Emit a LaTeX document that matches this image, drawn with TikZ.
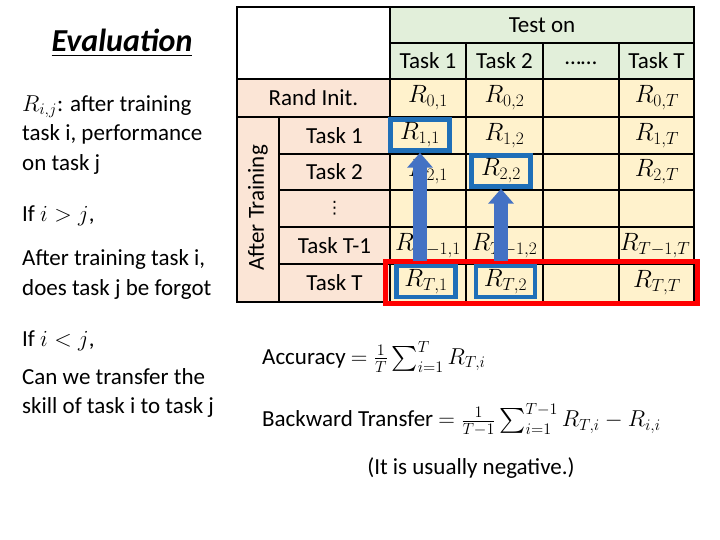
\RequirePackage{fix-cm}
\documentclass[tikz,border=0pt]{standalone}
\usepackage[no-math]{fontspec}
\setmainfont{Carlito}
\newfontfamily\dotsfont{DejaVu Sans}
\usepackage{amsmath}
\usetikzlibrary{arrows.meta, positioning}

\definecolor{headgreen}{HTML}{E2EFDA}
\definecolor{rowpeach}{HTML}{FBE5D6}
\definecolor{cellcream}{HTML}{FFF2CC}
\definecolor{boxblue}{HTML}{1F6FB8}
\definecolor{arrowblue}{HTML}{4472C4}
\definecolor{markred}{HTML}{FF0000}

\tikzset{
    grid/.style={draw=black, line width=1.6pt},
    res/.style={font=\fontsize{25}{28}\selectfont, inner sep=0pt},
    pick/.style={res, draw=boxblue, fill=cellcream, line width=4.5pt, minimum width=59pt, minimum height=31pt},
    lift/.style={draw=arrowblue, line width=14pt, -{Triangle[width=25pt, length=15pt]}},
    side/.style={anchor=west, align=left, inner sep=2pt}
}

\begin{document}
\begin{tikzpicture}[x=1pt, y=-1pt, every node/.style={font=\fontsize{23}{29.5}\selectfont}]
    \useasboundingbox (0,0) rectangle (720,540);
    % table background
    \fill[headgreen] (390,7) rectangle (694,79);
    \fill[rowpeach] (237,79) rectangle (390,302);
    \fill[cellcream] (390,79) rectangle (694,302);
    % grid lines
    \draw[grid] (237,7) rectangle (694,302);
    \draw[grid] (390,43) -- (694,43) (237,79) -- (694,79) (237,117) -- (694,117);
    \draw[grid] (279,154) -- (694,154) (279,190) -- (694,190) (279,227) -- (694,227) (279,264) -- (694,264);
    \draw[grid] (390,7) -- (390,302) (279,117) -- (279,302);
    \draw[grid] (466,43) -- (466,302) (543,43) -- (543,302) (619,43) -- (619,302);

    % header
    \node (teston) at (542,25) {Test on};
    \node (hdone) at (428,61) {Task 1};
    \node (hdtwo) at (504.5,61) {Task 2};
    \node (hddots) at (581,63) {……};
    \node (hdlast) at (656.5,61) {Task T};
    \node (randinit) at (313.5,98) {Rand Init.};
    \node[rotate=90] (aftertrain) at (258,208) {After Training};
    \node (rowone) at (334.5,135.5) {Task 1};
    \node (rowtwo) at (334.5,172) {Task 2};
    \node[font=\fontsize{17}{20}\dotsfont] (rowdots) at (334.5,208.5) {⋮};
    \node (rowprev) at (334.5,245.5) {Task T-1};
    \node (rowlast) at (334.5,283) {Task T};

    % results
    \node[res] (r01) at (428,98) {$R_{0,1}$};
    \node[res] (r02) at (504.5,98) {$R_{0,2}$};
    \node[res] (r0t) at (657,98) {$R_{0,T}$};
    \node[res] (r12) at (504.5,135.5) {$R_{1,2}$};
    \node[res] (r1t) at (657,135.5) {$R_{1,T}$};
    \node[res] (r21) at (428,172) {$R_{2,1}$};
    \node[res] (r2t) at (657,172) {$R_{2,T}$};
    \node[res] (rp1) at (428,245.5) {$R_{T-1,1}$};
    \node[res] (rp2) at (504.5,245.5) {$R_{T-1,2}$};
    \node[res] (rpt) at (655,245.5) {$R_{T-1,T}$};
    \node[res] (rtt) at (657,283) {$R_{T,T}$};

    \draw[markred, line width=5pt] (385,261) rectangle (697,303);
    \node[pick] (r11) at (420,135) {$R_{1,1}$};
    \node[pick] (r22) at (501,171) {$R_{2,2}$};
    \node[pick] (rt1) at (426,281.5) {$R_{T,1}$};
    \node[pick] (rt2) at (505.5,281.5) {$R_{T,2}$};

    \draw[lift, shorten <=3pt] (r11.south |- rt1.north) -- (r11.south);
    \draw[lift, shorten <=3pt] (r22.south |- rt2.north) -- (r22.south);

    % left side text
    \node[font=\fontsize{32}{36}\selectfont\bfseries\itshape] (title) at (122,43) {\underline{Evaluation}};
    \node[side] (meaning) at (20,135) {$R_{i,j}$: after training\\task i, performance\\on task j};
    \node[side] (ifgreater) at (20,216) {If $i>j$,};
    \node[side] (forgot) at (20,274.5) {After training task i,\\does task j be forgot};
    \node[side] (ifless) at (20,341) {If $i<j$,};
    \node[side] (transfer) at (20,393) {Can we transfer the\\skill of task i to task j};

    % metrics
    \node[side] (accuracy) at (260,357) {Accuracy $=\frac{1}{T}\sum_{i=1}^{T} R_{T,i}$};
    \node[side] (backward) at (260,420) {Backward Transfer $=\frac{1}{T-1}\sum_{i=1}^{T-1} R_{T,i}-R_{i,i}$};
    \node (negative) at (471,468) {(It is usually negative.)};
\end{tikzpicture}
\end{document}
